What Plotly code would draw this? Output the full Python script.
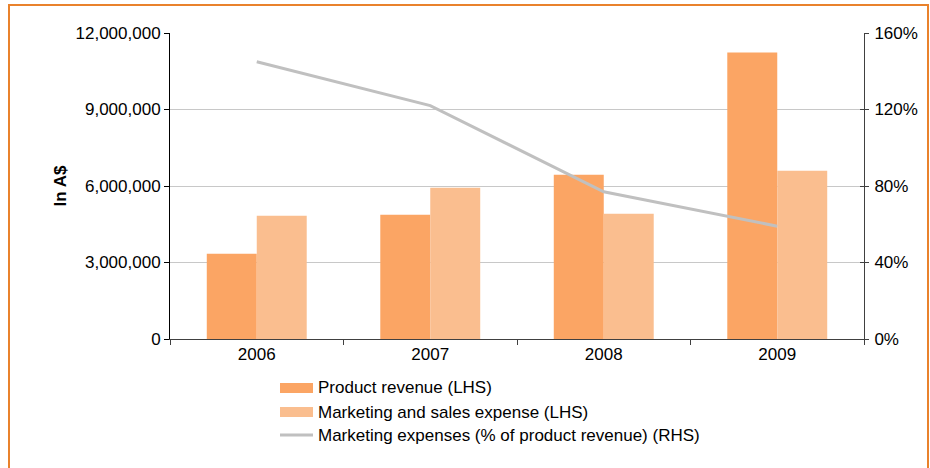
import plotly.graph_objects as go

# Data
years = ["2006", "2007", "2008", "2009"]
product_revenue = [3340000, 4870000, 6440000, 11240000]
marketing_expense = [4830000, 5930000, 4910000, 6600000]
marketing_pct = [145, 122, 77, 59]

left_ticks = [0, 3000000, 6000000, 9000000, 12000000]
right_ticks = [0, 40, 80, 120, 160]
right_labels = ["0%", "40%", "80%", "120%", "160%"]

names = [
    "Product revenue (LHS)",
    "Marketing and sales expense (LHS)",
    "Marketing expenses (% of product revenue) (RHS)",
]

C_DARK = "#FBA564"
C_LIGHT = "#FABE8F"
C_LINE = "#C0C0C0"
C_BORDER = "#E9822C"
FONT = "Liberation Sans, Arial, sans-serif"
FS = 17

fig = go.Figure()
fig.add_trace(go.Bar(x=years, y=product_revenue, name=names[0],
                     marker=dict(color=C_DARK, line=dict(width=0)), yaxis="y"))
fig.add_trace(go.Bar(x=years, y=marketing_expense, name=names[1],
                     marker=dict(color=C_LIGHT, line=dict(width=0)), yaxis="y"))
fig.add_trace(go.Scatter(x=years, y=marketing_pct, name=names[2], mode="lines",
                         line=dict(color=C_LINE, width=3), yaxis="y2"))
# invisible trace so the inner-tick axis is drawn
fig.add_trace(go.Scatter(x=years, y=marketing_pct, yaxis="y3", mode="lines",
                         line=dict(width=0), hoverinfo="skip", showlegend=False))

L, R, T, B = 170, 66, 33, 129
W, H = 930, 468
pw, ph = W - L - R, H - T - B


def px_x(x):
    return (x - L) / pw


def px_y(y):
    return (H - B - y) / ph


shapes = [
    # outer frame
    dict(type="rect", xref="paper", yref="paper",
         x0=px_x(9), x1=px_x(928), y0=px_y(5), y1=px_y(500),
         line=dict(color=C_BORDER, width=2), fillcolor="rgba(0,0,0,0)", layer="below"),
]

# legend block drawn below the plot
legend_rows = [388, 412, 435]
annotations = []
for i, (nm, yy) in enumerate(zip(names, legend_rows)):
    if i < 2:
        shapes.append(dict(type="rect", xref="paper", yref="paper",
                           x0=px_x(280), x1=px_x(313), y0=px_y(yy - 5), y1=px_y(yy + 5),
                           line=dict(width=0), fillcolor=[C_DARK, C_LIGHT][i]))
    else:
        shapes.append(dict(type="line", xref="paper", yref="paper",
                           x0=px_x(280), x1=px_x(313), y0=px_y(yy), y1=px_y(yy),
                           line=dict(color=C_LINE, width=3)))
    annotations.append(dict(xref="paper", yref="paper", x=px_x(316), y=px_y(yy),
                            xanchor="left", yanchor="middle", text=nm, showarrow=False,
                            font=dict(size=FS, color="#000", family=FONT)))

fig.update_layout(
    width=W, height=H,
    margin=dict(l=L, r=R, t=T, b=B),
    paper_bgcolor="white", plot_bgcolor="white",
    font=dict(family=FONT, size=FS, color="#000"),
    barmode="group", bargap=0.424, bargroupgap=0,
    showlegend=False,
    xaxis=dict(type="category", tickson="boundaries", ticks="outside", ticklen=5,
               tickcolor="#404040", showline=True, linecolor="#404040", linewidth=1,
               showgrid=False, tickfont=dict(size=FS)),
    yaxis=dict(range=[0, 12000000], tickmode="array", tickvals=left_ticks, tickformat=",d",
               ticks="outside", ticklen=5, tickcolor="#000",
               showline=True, linecolor="#000", linewidth=1,
               showgrid=True, gridcolor="#C8C8C8", gridwidth=1, zeroline=False,
               title=dict(text="<b>In A$</b>", font=dict(size=FS), standoff=4),
               tickfont=dict(size=FS)),
    yaxis2=dict(range=[0, 160], tickmode="array", tickvals=right_ticks, ticktext=right_labels,
                overlaying="y", side="right", anchor="x",
                ticks="outside", ticklen=4, tickcolor="#404040", ticklabelstandoff=2,
                showline=True, linecolor="#404040", linewidth=1,
                showgrid=False, zeroline=False, tickfont=dict(size=FS)),
    yaxis3=dict(range=[0, 160], tickmode="array", tickvals=right_ticks, overlaying="y",
                side="right", anchor="x", ticks="inside", ticklen=4, tickcolor="#404040",
                showticklabels=False, showline=False, showgrid=False, zeroline=False),
    shapes=shapes,
    annotations=annotations,
)

fig.write_html("out.html")
